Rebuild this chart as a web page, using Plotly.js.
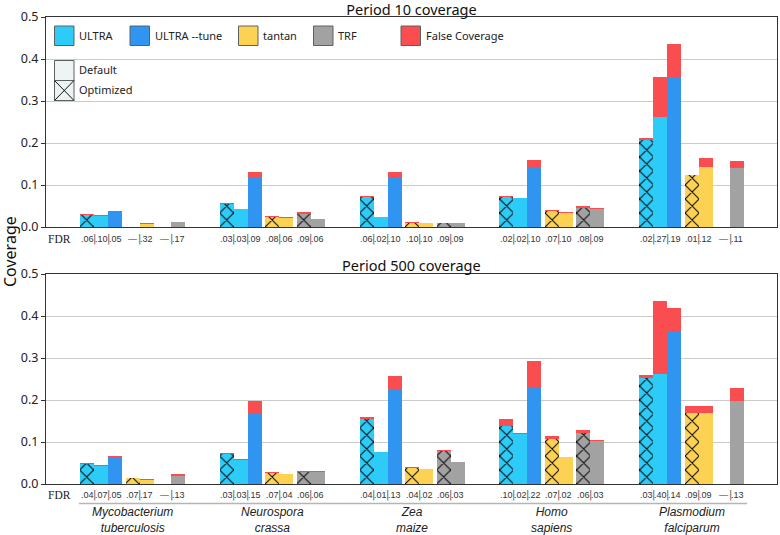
<!DOCTYPE html>
<html>
<head>
<meta charset="utf-8">
<script src="https://cdn.plot.ly/plotly-3.0.1.min.js"></script>
<style>html,body{margin:0;padding:0;background:#fff;}#chart{width:780px;height:535px;}</style>
</head>
<body>
<div id="chart"></div>
<script>
// ---------------- DATA ----------------
const genus = ["Mycobacterium", "Neurospora", "Zea", "Homo", "Plasmodium"];
const species = ["tuberculosis", "crassa", "maize", "sapiens", "falciparum"];

// Period 10: true coverage and false coverage per tool/setting
const ultraOpt10   = [0.029, 0.054, 0.071, 0.072, 0.208];
const ultraOpt10F  = [0.001, 0.002, 0.003, 0.001, 0.004];
const ultraDef10   = [0.027, 0.044, 0.024, 0.068, 0.261];
const ultraDef10F  = [0.001, 0.000, 0.000, 0.001, 0.096];
const tune10       = [0.038, 0.120, 0.118, 0.143, 0.358];
const tune10F      = [0.001, 0.012, 0.013, 0.016, 0.078];
const tantanOpt10  = [null, 0.025, 0.010, 0.038, 0.124];
const tantanOpt10F = [null, 0.002, 0.001, 0.002, 0.000];
const tantanDef10  = [0.007, 0.022, 0.010, 0.034, 0.143];
const tantanDef10F = [0.002, 0.001, 0.000, 0.001, 0.021];
const trfOpt10     = [null, 0.032, 0.009, 0.046, null];
const trfOpt10F    = [null, 0.003, 0.001, 0.004, null];
const trfDef10     = [0.011, 0.020, 0.009, 0.044, 0.141];
const trfDef10F    = [0.002, 0.000, 0.000, 0.001, 0.016];

// Period 500
const ultraOpt500   = [0.048, 0.072, 0.154, 0.139, 0.253];
const ultraOpt500F  = [0.002, 0.002, 0.006, 0.015, 0.006];
const ultraDef500   = [0.044, 0.058, 0.076, 0.120, 0.262];
const ultraDef500F  = [0.002, 0.001, 0.000, 0.002, 0.173];
const tune500       = [0.063, 0.168, 0.223, 0.230, 0.361];
const tune500F      = [0.003, 0.030, 0.034, 0.064, 0.059];
const tantanOpt500  = [0.014, 0.026, 0.038, 0.106, 0.170];
const tantanOpt500F = [0.001, 0.002, 0.002, 0.008, 0.016];
const tantanDef500  = [0.010, 0.023, 0.036, 0.064, 0.170];
const tantanDef500F = [0.001, 0.000, 0.000, 0.001, 0.016];
const trfOpt500     = [null, 0.029, 0.079, 0.122, null];
const trfOpt500F    = [null, 0.001, 0.003, 0.007, null];
const trfDef500     = [0.020, 0.029, 0.052, 0.102, 0.198];
const trfDef500F    = [0.003, 0.001, 0.001, 0.002, 0.030];

// FDR labels (per bar: ULTRA opt, ULTRA def, ULTRA --tune, tantan opt, tantan def, TRF opt, TRF def)
const fdr10 = [
  [".06", ".10", ".05", "—", ".32", "—", ".17"],
  [".03", ".03", ".09", ".08", ".06", ".09", ".06"],
  [".06", ".02", ".10", ".10", ".10", ".09", ".09"],
  [".02", ".02", ".10", ".07", ".10", ".08", ".09"],
  [".02", ".27", ".19", ".01", ".12", "—", ".11"]
];
const fdr500 = [
  [".04", ".07", ".05", ".07", ".17", "—", ".13"],
  [".03", ".03", ".15", ".07", ".04", ".06", ".06"],
  [".04", ".01", ".13", ".04", ".02", ".06", ".03"],
  [".10", ".02", ".22", ".07", ".02", ".06", ".03"],
  [".03", ".40", ".14", ".09", ".09", "—", ".13"]
];

const toolNames = ["ULTRA", "ULTRA --tune", "tantan", "TRF", "False Coverage"];
const settingNames = ["Default", "Optimized"];

// ---------------- STYLE / LAYOUT ----------------
const C_ULTRA = "#2ccbf8", C_TUNE = "#2f95f1", C_TANTAN = "#fdd152", C_TRF = "#a2a2a2", C_FALSE = "#f94d4f";
const W = 780, H = 535, ML = 46, MR = 3, MT = 17, MB = 51;
const PW = W - ML - MR, PH = H - MT - MB;
const px2x = p => (p - ML) / PW;
const py2y = p => (H - MB - p) / PH;

const xRange = [-0.621, 4.612];
const SCALE = PW / (xRange[1] - xRange[0]);   // px per group unit
const HATCH = 14;                               // hatch tile in px (Plotly tile = size * sqrt2)
const bw = 0.1002;
const offs = [-3.25, -2.25, -1.25, 0, 1, 2.25, 3.25];
const gIdx = genus.map((_, i) => i);

const yDom10 = [(H - MB - 227) / PH, 1];
const yDom500 = [0, (H - MB - 274) / PH];

const barDefs = [
  {c: C_ULTRA, hatch: true},
  {c: C_ULTRA, hatch: false},
  {c: C_TUNE, hatch: false},
  {c: C_TANTAN, hatch: true},
  {c: C_TANTAN, hatch: false},
  {c: C_TRF, hatch: true},
  {c: C_TRF, hatch: false}
];
const p10 = [[ultraOpt10, ultraOpt10F], [ultraDef10, ultraDef10F], [tune10, tune10F],
             [tantanOpt10, tantanOpt10F], [tantanDef10, tantanDef10F], [trfOpt10, trfOpt10F], [trfDef10, trfDef10F]];
const p500 = [[ultraOpt500, ultraOpt500F], [ultraDef500, ultraDef500F], [tune500, tune500F],
              [tantanOpt500, tantanOpt500F], [tantanDef500, tantanDef500F], [trfOpt500, trfOpt500F], [trfDef500, trfDef500F]];

const traces = [];
const extraAxes = {};
let axN = 3;
function addPeriod(series, xa, ya, yDom) {
  series.forEach((pair, k) => {
    const xs = gIdx.map(g => g + offs[k] * bw);
    const d = barDefs[k];
    const marker = {color: d.c, line: {width: 0}};
    let xRef = xa, yRef = ya;
    if (d.hatch) {
      // hidden helper subplot whose origin lines the hatch cells up with the bar edges
      const leftPx = (2 + (offs[k] - 0.5) * bw - xRange[0]) * SCALE;
      const shift = ((leftPx % HATCH) + HATCH) % HATCH;
      const n = axN++;
      extraAxes["xaxis" + n] = {domain: [shift / PW, 1], range: [xRange[0] + shift / SCALE, xRange[1]], visible: false,
        anchor: "y" + n, fixedrange: true};
      extraAxes["yaxis" + n] = {domain: yDom, range: [0, 0.5], visible: false, anchor: "x" + n, fixedrange: true};
      xRef = "x" + n; yRef = "y" + n;
      marker.pattern = {shape: "x", size: HATCH / Math.SQRT2, solidity: 0.21, fgcolor: "#111", bgcolor: d.c, fillmode: "replace"};
    }
    traces.push({type: "bar", x: xs, y: pair[0], width: bw, marker: marker, xaxis: xRef, yaxis: yRef, showlegend: false, hoverinfo: "skip"});
    traces.push({type: "bar", x: xs, y: pair[1], width: bw, marker: {color: C_FALSE, line: {width: 0}}, xaxis: xRef, yaxis: yRef, showlegend: false, hoverinfo: "skip"});
  });
}
addPeriod(p10, "x", "y", yDom10);
addPeriod(p500, "x2", "y2", yDom500);

const annotations = [];
const shapes = [];
const numFont = {family: "Liberation Sans, Arial, sans-serif", size: 9, color: "#333"};

function addFdr(labels, xref, pyText) {
  labels.forEach((row, g) => {
    row.forEach((t, k) => {
      annotations.push({xref: xref, yref: "paper", x: g + offs[k] * bw, y: py2y(pyText), text: t, showarrow: false,
        xanchor: "center", yanchor: "middle", font: numFont});
    });
    [0, 1, 3, 5].forEach(k => {
      annotations.push({xref: xref, yref: "paper", x: g + (offs[k] + 0.5) * bw, y: py2y(pyText), text: "|", showarrow: false,
        xanchor: "center", yanchor: "middle", font: {family: "DejaVu Sans, sans-serif", size: 10, color: "#555"}});
    });
  });
  annotations.push({xref: "paper", yref: "paper", x: px2x(59), y: py2y(pyText), text: "FDR", showarrow: false,
    xanchor: "center", yanchor: "middle", font: {family: "Liberation Serif, Times New Roman, serif", size: 11.5, color: "#222"}});
}
addFdr(fdr10, "x", 239);
addFdr(fdr500, "x2", 494.5);

// species names (two lines)
genus.forEach((gn, g) => {
  annotations.push({xref: "x2", yref: "paper", x: g, y: py2y(520), text: gn + "<br>" + species[g], showarrow: false,
    xanchor: "center", yanchor: "middle", align: "center",
    font: {family: "Liberation Sans, Arial, sans-serif", size: 12, color: "#222", style: "italic"}});
});
shapes.push({type: "line", xref: "paper", yref: "paper", x0: px2x(79), x1: px2x(747), y0: py2y(503.5), y1: py2y(503.5),
  line: {color: "#b5b5b5", width: 1.5}});

// second title and y title
annotations.push({xref: "paper", yref: "paper", x: 0.5, y: py2y(265), text: "Period 500 coverage", showarrow: false,
  xanchor: "center", yanchor: "middle", font: {family: "Noto Sans, sans-serif", size: 14.5, color: "#111"}});
annotations.push({xref: "paper", yref: "paper", x: px2x(10), y: py2y(252), text: "Coverage", textangle: -90, showarrow: false,
  xanchor: "center", yanchor: "middle", font: {family: "Noto Sans, sans-serif", size: 16, color: "#111"}});

// legend (drawn)
const legFont = {family: "Noto Sans, sans-serif", size: 11, color: "#222"};
const legColors = [C_ULTRA, C_TUNE, C_TANTAN, C_TRF, C_FALSE];
const legX = [54.5, 130, 238.5, 313.5, 401];
toolNames.forEach((nm, i) => {
  shapes.push({type: "rect", xref: "paper", yref: "paper", x0: px2x(legX[i]), x1: px2x(legX[i] + 19.5), y0: py2y(26), y1: py2y(45.5),
    fillcolor: legColors[i], line: {color: "#5a6262", width: 1}});
  annotations.push({xref: "paper", yref: "paper", x: px2x(legX[i] + 22.5), y: py2y(35.5), text: nm, showarrow: false,
    xanchor: "left", yanchor: "middle", font: legFont});
});
shapes.push({type: "rect", xref: "paper", yref: "paper", x0: px2x(54.5), x1: px2x(74), y0: py2y(60.5), y1: py2y(80.5),
  fillcolor: "#eef3f3", line: {color: "#5a6262", width: 1}});
shapes.push({type: "rect", xref: "paper", yref: "paper", x0: px2x(54.5), x1: px2x(74), y0: py2y(80.5), y1: py2y(100.5),
  fillcolor: "#eef3f3", line: {color: "#5a6262", width: 1}});
shapes.push({type: "line", xref: "paper", yref: "paper", x0: px2x(54.5), x1: px2x(74), y0: py2y(80.5), y1: py2y(100.5), line: {color: "#111", width: 1}});
shapes.push({type: "line", xref: "paper", yref: "paper", x0: px2x(54.5), x1: px2x(74), y0: py2y(100.5), y1: py2y(80.5), line: {color: "#111", width: 1}});
annotations.push({xref: "paper", yref: "paper", x: px2x(77), y: py2y(70), text: settingNames[0], showarrow: false, xanchor: "left", yanchor: "middle", font: legFont});
annotations.push({xref: "paper", yref: "paper", x: px2x(77), y: py2y(90), text: settingNames[1], showarrow: false, xanchor: "left", yanchor: "middle", font: legFont});

const yAx = {range: [0, 0.5], dtick: 0.1, tickformat: ".1f", showgrid: true, gridcolor: "#cbcbcb", gridwidth: 1, zeroline: false,
  showline: true, mirror: true, linecolor: "#333", linewidth: 1, ticks: "outside", ticklen: 4, tickcolor: "#333",
  tickfont: {family: "Noto Sans, sans-serif", size: 12.5, color: "#222"}, fixedrange: true};
const xAx = {range: xRange, showticklabels: false, showgrid: false, zeroline: false, showline: true, mirror: true,
  linecolor: "#333", linewidth: 1, ticks: "", fixedrange: true};

const layout = Object.assign({
  width: W, height: H,
  margin: {l: ML, r: MR, t: MT, b: MB, pad: 0},
  paper_bgcolor: "#fff", plot_bgcolor: "rgba(0,0,0,0)",
  barmode: "relative", bargap: 0,
  showlegend: false,
  title: {text: "Period 10 coverage", x: 0.5, xref: "paper", xanchor: "center", y: 1 - 10 / H, yref: "container", yanchor: "middle",
    font: {family: "Noto Sans, sans-serif", size: 14.5, color: "#111"}},
  xaxis: Object.assign({}, xAx, {anchor: "y", domain: [0, 1]}),
  yaxis: Object.assign({}, yAx, {anchor: "x", domain: yDom10}),
  xaxis2: Object.assign({}, xAx, {anchor: "y2", domain: [0, 1]}),
  yaxis2: Object.assign({}, yAx, {anchor: "x2", domain: yDom500}),
  annotations: annotations,
  shapes: shapes
}, extraAxes);

Plotly.newPlot("chart", traces, layout, {displayModeBar: false, staticPlot: true});
</script>
</body>
</html>
